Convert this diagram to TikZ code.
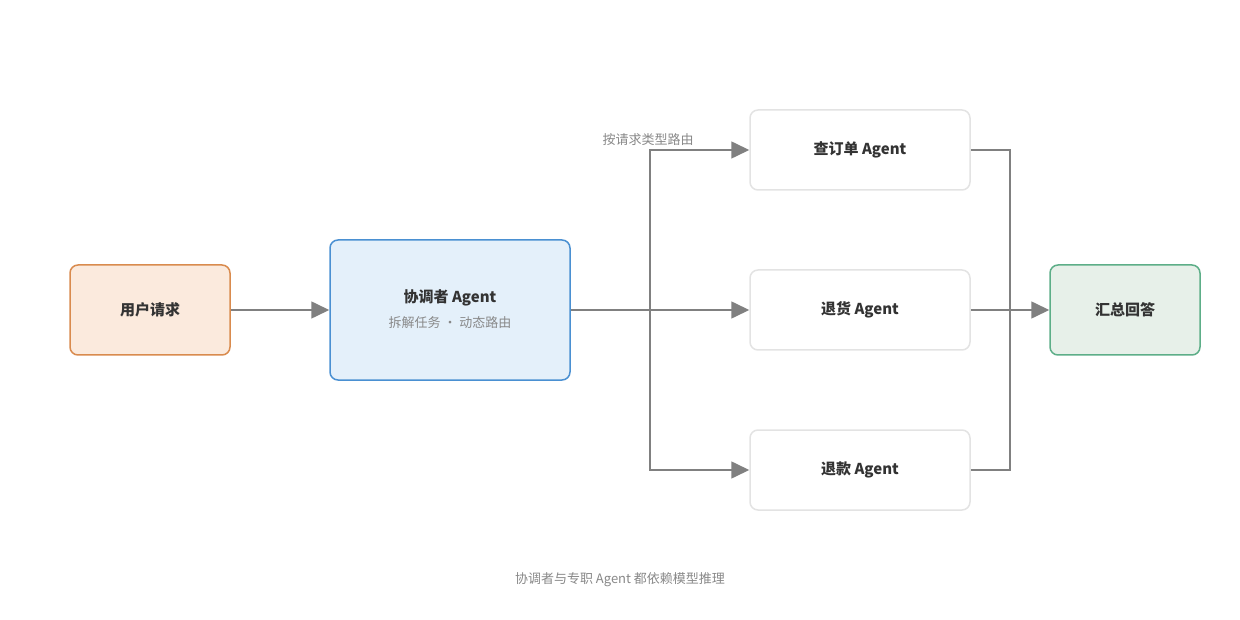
\documentclass[tikz,border=0pt]{standalone}
\usepackage{fontspec}
\setmainfont{Noto Sans CJK SC}
\usetikzlibrary{arrows.meta,positioning}
\definecolor{lineg}{HTML}{808080}
\definecolor{txt}{HTML}{333333}
\definecolor{subt}{HTML}{888888}
\definecolor{orfill}{HTML}{FBEADD}
\definecolor{ordraw}{HTML}{D98B4E}
\definecolor{blfill}{HTML}{E4F0FA}
\definecolor{bldraw}{HTML}{4A90D2}
\definecolor{grfill}{HTML}{E7F0E9}
\definecolor{grdraw}{HTML}{5DAE88}
\definecolor{wdraw}{HTML}{E3E3E3}
\tikzset{
  box/.style={rounded corners=8pt, line width=1.5pt, inner sep=0pt, align=center,
    font=\fontsize{15pt}{18pt}\selectfont\bfseries, text=txt},
  agentbox/.style={box, draw=wdraw, fill=white, minimum width=220pt, minimum height=80pt},
  conn/.style={draw=lineg, line width=1.6pt, -{Triangle[length=18pt,width=17pt]}},
  plainconn/.style={draw=lineg, line width=1.6pt},
  note/.style={font=\fontsize{13pt}{15pt}\selectfont, text=subt}
}
\begin{document}
\begin{tikzpicture}[x=1pt,y=-1pt]
\useasboundingbox (0,0) rectangle (1240,620);
\node[box, draw=ordraw, fill=orfill, minimum width=160pt, minimum height=90pt] (user) at (150,310) {用户请求};
\node[box, draw=bldraw, fill=blfill, minimum width=240pt, minimum height=140pt] (coord) at (450,310) {};
\node[font=\fontsize{15pt}{18pt}\selectfont\bfseries, text=txt] (ctitle) at (450,297.5) {协调者 Agent};
\node[note] (csub) at (450,323) {拆解任务 · 动态路由};
\node[agentbox] (a1) at (860,150) {查订单 Agent};
\node[agentbox] (a2) at (860,310) {退货 Agent};
\node[agentbox] (a3) at (860,470) {退款 Agent};
\node[box, draw=grdraw, fill=grfill, minimum width=150pt, minimum height=90pt] (sum) at (1125,310) {汇总回答};
\coordinate (split) at (650,310);
\coordinate (merge) at (1010,310);
\draw[conn] (user.east) -- (coord.west);
\draw[conn] (coord.east) -- (a2.west);
\draw[conn] (split) |- (a1.west);
\draw[conn] (split) |- (a3.west);
\draw[plainconn] (a1.east) -| (merge);
\draw[plainconn] (a3.east) -| (merge);
\draw[conn] (a2.east) -- (sum.west);
\node[note] (lbl) at (648,140) {按请求类型路由};
\node[note] (foot) at (620,580) {协调者与专职 Agent 都依赖模型推理};
\end{tikzpicture}
\end{document}
